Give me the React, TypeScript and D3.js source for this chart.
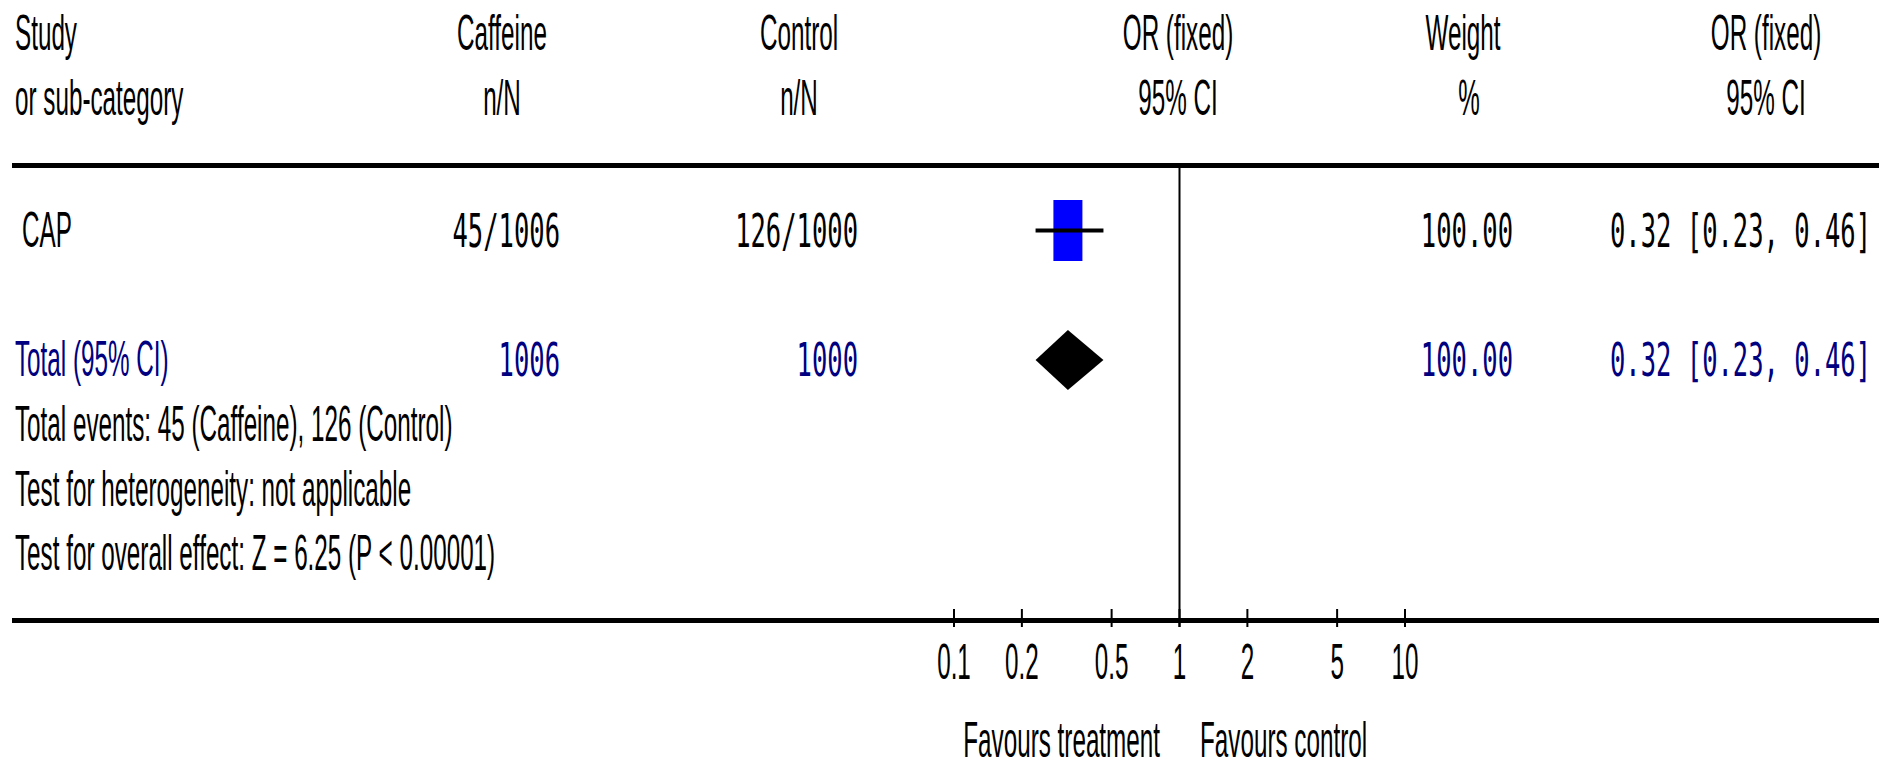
import React from "react";
import * as d3 from "d3";

const headers1 = ["Study", "Caffeine", "Control", "OR (fixed)", "Weight", "OR (fixed)"];
const headers2 = ["or sub-category", "n/N", "n/N", "95% CI", "%", "95% CI"];
const studies = ["CAP"];
const caffEvents = [45];
const caffTotal = [1006];
const ctrlEvents = [126];
const ctrlTotal = [1000];
const weights = [100.0];
const ors = [0.32];
const orLo = [0.23];
const orHi = [0.46];
const totalLabel = "Total (95% CI)";
const totalCaff = 1006;
const totalCtrl = 1000;
const totalWeight = 100.0;
const totalOr = 0.32;
const totalLo = 0.23;
const totalHi = 0.46;
const footnotes = [
  "Total events: 45 (Caffeine), 126 (Control)",
  "Test for heterogeneity: not applicable",
  "Test for overall effect: Z = 6.25 (P < 0.00001)",
];
const axisTicks = [0.1, 0.2, 0.5, 1, 2, 5, 10];
const favours = ["Favours treatment", "Favours control"];

const W = 1879;
const H = 768;
const SANS = "'Liberation Sans', Arial, sans-serif";
const MONO = "'DejaVu Sans Mono', monospace";
const NAVY = "#000080";

function T({ x, y, children, anchor = "start", fill = "#000", mono = false }: any) {
  const fs = mono ? 47 : 50;
  const sx = mono ? 0.543 : 0.485;
  return (
    <text
      transform={`translate(${x},${y}) scale(${sx},1)`}
      textAnchor={anchor}
      fontFamily={mono ? MONO : SANS}
      fontSize={fs}
      fill={fill}
    >
      {children}
    </text>
  );
}

export default function App() {
  const x = d3.scaleLog().domain([0.1, 10]).range([954, 1405]);
  const colX = [15, 502, 799, 1178, 1463, 1766];
  const rowY = [230.5];
  const totalY = 360;
  const f2 = d3.format(".2f");
  const fmtOr = (o: number, l: number, h: number) => `${f2(o)} [${f2(l)}, ${f2(h)}]`;
  const diamond = [
    [x(totalLo), totalY],
    [x(totalOr), totalY - 30],
    [x(totalHi), totalY],
    [x(totalOr), totalY + 30],
  ];
  return (
    <svg
      width={W}
      height={H}
      style={{ position: "absolute", left: 0, top: 0, background: "#fff" }}
    >
      <rect width={W} height={H} fill="#fff" />
      {headers1.map((h, i) => (
        <T key={"h1" + i} x={colX[i]} y={50} anchor={i === 0 ? "start" : "middle"}>
          {h}
        </T>
      ))}
      {headers2.map((h, i) => (
        <T key={"h2" + i} x={colX[i] + (i === 4 ? 6 : 0)} y={115} anchor={i === 0 ? "start" : "middle"}>
          {h}
        </T>
      ))}
      <line x1={12} x2={W} y1={165.5} y2={165.5} stroke="#000" strokeWidth={5} />
      <line x1={x(1)} x2={x(1)} y1={168} y2={627} stroke="#000" strokeWidth={2} />

      {studies.map((s, i) => (
        <g key={s}>
          <T x={22} y={247}>{s}</T>
          <T x={560} y={247} anchor="end" mono>{`${caffEvents[i]}/${caffTotal[i]}`}</T>
          <T x={858} y={247} anchor="end" mono>{`${ctrlEvents[i]}/${ctrlTotal[i]}`}</T>
          <rect x={x(ors[i]) - 14.5} y={rowY[i] - 30.5} width={29} height={61} fill="#0000ff" />
          <line x1={x(orLo[i])} x2={x(orHi[i])} y1={rowY[i]} y2={rowY[i]} stroke="#000" strokeWidth={4} />
          <T x={1513} y={247} anchor="end" mono>{f2(weights[i])}</T>
          <T x={1610} y={247} mono>{fmtOr(ors[i], orLo[i], orHi[i])}</T>
        </g>
      ))}

      <T x={15} y={376} fill={NAVY}>{totalLabel}</T>
      <T x={560} y={376} anchor="end" mono fill={NAVY}>{String(totalCaff)}</T>
      <T x={858} y={376} anchor="end" mono fill={NAVY}>{String(totalCtrl)}</T>
      <polygon points={diamond.map((p) => p.join(",")).join(" ")} fill="#000" />
      <T x={1513} y={376} anchor="end" mono fill={NAVY}>{f2(totalWeight)}</T>
      <T x={1610} y={376} mono fill={NAVY}>{fmtOr(totalOr, totalLo, totalHi)}</T>

      {footnotes.map((f, i) => (
        <T key={"f" + i} x={15} y={441 + i * 64.5}>{f}</T>
      ))}

      <line x1={12} x2={W} y1={620.5} y2={620.5} stroke="#000" strokeWidth={5} />
      {axisTicks.map((t) => (
        <g key={"t" + t}>
          <line x1={x(t)} x2={x(t)} y1={609} y2={627} stroke="#000" strokeWidth={2} />
          <T x={x(t)} y={679} anchor="middle">{String(t)}</T>
        </g>
      ))}
      <T x={1160} y={757} anchor="end">{favours[0]}</T>
      <T x={1200} y={757}>{favours[1]}</T>
    </svg>
  );
}
